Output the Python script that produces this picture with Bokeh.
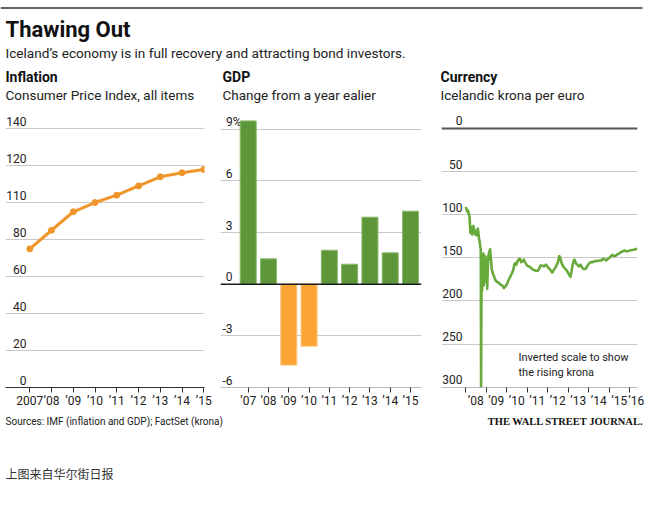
from bokeh.plotting import figure
from bokeh.models import Range1d, FixedTicker, Span, Grid, ColumnDataSource
from bokeh.layouts import column, row
from bokeh.embed import file_html
from bokeh.resources import INLINE
from bokeh.core.properties import value

# ---------------- data ----------------
TITLE = "Thawing Out"
SUBTITLE = "Iceland’s economy is in full recovery and attracting bond investors."
PANEL_TITLES = ["Inflation", "GDP", "Currency"]
PANEL_SUBTITLES = ["Consumer Price Index, all items", "Change from a year ealier", "Icelandic krona per euro"]
SOURCE = "Sources: IMF (inflation and GDP); FactSet (krona)"
CREDIT = "THE WALL STREET JOURNAL."
NOTE = "上图来自华尔街日报"

CPI_YEARS = [2007, 2008, 2009, 2010, 2011, 2012, 2013, 2014, 2015]
CPI_VALUES = [75.0, 85.1, 95.1, 100.1, 104.1, 109.1, 114.0, 116.2, 118.0]
CPI_XLABELS = ["2007", "’08", "’09", "’10", "’11", "’12", "’13", "’14", "’15"]
CPI_YTICKS = [0, 20, 40, 60, 80, 100, 120, 140]
CPI_YLABELS = ["0", "20", "40", "60", "80", "110", "120", "140"]

GDP_YEARS = [2007, 2008, 2009, 2010, 2011, 2012, 2013, 2014, 2015]
GDP_VALUES = [9.48, 1.47, -4.70, -3.60, 1.97, 1.16, 3.89, 1.82, 4.24]
GDP_XLABELS = ["’07", "’08", "’09", "’10", "’11", "’12", "’13", "’14", "’15"]
GDP_YTICKS = [-6, -3, 0, 3, 6, 9]
GDP_YLABELS = ["-6", "-3", "0", "3", "6", "9%"]

KRONA_DATES = [
    2008.00, 2008.04, 2008.08, 2008.12, 2008.16, 2008.20, 2008.22, 2008.24, 2008.27, 2008.30,
    2008.33, 2008.36, 2008.39, 2008.42, 2008.45, 2008.48, 2008.51, 2008.54, 2008.57, 2008.60,
    2008.63, 2008.66, 2008.69, 2008.72, 2008.745, 2008.76, 2008.775, 2008.79, 2008.81, 2008.83,
    2008.85, 2008.87, 2008.89, 2008.91, 2008.93, 2008.95, 2008.97, 2009.00, 2009.03, 2009.06,
    2009.09, 2009.12, 2009.16, 2009.20, 2009.24, 2009.28, 2009.33, 2009.40, 2009.46, 2009.55,
    2009.63, 2009.70, 2009.79, 2009.87, 2009.95, 2010.03, 2010.10, 2010.20, 2010.28, 2010.33,
    2010.38, 2010.43, 2010.48, 2010.52, 2010.58, 2010.65, 2010.72, 2010.78, 2010.84, 2010.90,
    2011.01, 2011.10, 2011.17, 2011.25, 2011.33, 2011.43, 2011.53, 2011.60, 2011.66, 2011.75,
    2011.84, 2011.92, 2012.00, 2012.06, 2012.14, 2012.23, 2012.31, 2012.39, 2012.47, 2012.52,
    2012.57, 2012.61, 2012.66, 2012.72, 2012.80, 2012.88, 2012.95, 2013.04, 2013.12, 2013.17,
    2013.22, 2013.28, 2013.32, 2013.38, 2013.45, 2013.53, 2013.61, 2013.68, 2013.76, 2013.85,
    2013.93, 2013.98, 2014.05, 2014.12, 2014.20, 2014.30, 2014.42, 2014.52, 2014.62, 2014.72,
    2014.80, 2014.87, 2014.95, 2015.02, 2015.10, 2015.16, 2015.25, 2015.32, 2015.40, 2015.48,
    2015.55, 2015.61, 2015.70, 2015.77, 2015.85, 2015.94, 2016.02, 2016.10, 2016.20, 2016.29,
    2016.38,
]
KRONA_VALUES = [
    91, 93, 96, 95, 99, 103, 112, 121, 114, 118,
    123, 115, 113, 121, 118, 123, 119, 124, 122, 116,
    121, 128, 131, 137, 140, 300, 205, 150, 188, 146,
    176, 145, 182, 150, 170, 148, 178, 155, 150, 186,
    160, 147, 143, 140, 152, 163, 168, 172, 176, 178,
    179, 181, 182, 185, 183, 180, 176, 171, 167, 164,
    158, 156, 158, 155, 152, 151, 155, 154, 152, 155,
    159, 160, 161, 163, 164, 165, 165, 162, 159, 159,
    160, 158, 160, 162, 164, 167, 164, 161, 157, 154,
    148, 149, 154, 158, 161, 163, 165, 169, 172, 166,
    159, 153, 152, 156, 158, 160, 158, 161, 163, 163,
    160, 158, 156, 155, 155, 154, 153.5, 153, 153, 151,
    152, 153, 151, 150, 148, 146.5, 148, 147.5, 146, 145,
    144, 143, 142, 141.5, 142.5, 142, 141.5, 141, 140.5, 140,
    139.5,
]
KRONA_YTICKS = [0, 50, 100, 150, 200, 250, 300]
KRONA_YLABELS = ["0", "50", "100", "150", "200", "250", "300"]
KRONA_YEAR_STARTS = [2008, 2009, 2010, 2011, 2012, 2013, 2014, 2015, 2016]
KRONA_LABEL_AT = [2008.5, 2009.5, 2010.5, 2011.5, 2012.5, 2013.5, 2014.5, 2015.5, 2016.33]
KRONA_XLABELS = ["’08", "’09", "’10", "’11", "’12", "’13", "’14", "’15", "’16"]
KRONA_NOTE = ["Inverted scale to show", "the rising krona"]

# ---------------- style ----------------
FONT = "Roboto"
TXT = "#222222"
GRID = "#c9c9c9"
ORANGE_LINE = "#f0952b"
ORANGE_BAR = "#fba634"
ORANGE_EDGE = "#fcc57c"
GREEN_BAR = "#5e963a"
GREEN_EDGE = "#8ab86c"
GREEN_LINE = "#69aa3d"

W = 657
FRAME_H = 277
TOP = 2
BOTTOM = 25


def bare(width, height):
    p = figure(width=width, height=height, x_range=Range1d(0, width), y_range=Range1d(height, 0),
               x_axis_location=None, y_axis_location=None, toolbar_location=None,
               output_backend="svg", min_border=0)
    p.grid.visible = False
    p.outline_line_color = None
    return p


def panel(frame_w, left, right, xr, yr):
    p = figure(frame_width=frame_w, frame_height=FRAME_H, min_border_left=left, min_border_right=right,
               min_border_top=TOP, min_border_bottom=BOTTOM, x_range=xr, y_range=yr,
               y_axis_location=None, toolbar_location=None, output_backend="svg")
    p.grid.visible = False
    p.outline_line_color = None
    ax = p.xaxis[0]
    ax.major_tick_in = 0
    ax.major_tick_out = 5
    ax.minor_tick_in = 0
    ax.minor_tick_out = 0
    ax.major_tick_line_color = "#333333"
    ax.major_label_standoff = 1
    ax.major_label_text_font = FONT
    ax.major_label_text_font_size = "12px"
    ax.major_label_text_color = TXT
    return p


def ylabels(p, ticks, labels, xoff, extra=None):
    offs = [xoff + (extra or {}).get(t, 0) for t in labels]
    src = ColumnDataSource(dict(x=[p.x_range.start] * len(ticks), y=ticks, t=labels, o=offs))
    p.text(x="x", y="y", text="t", x_offset="o", y_offset=-7.5, source=src, text_align="right",
           text_baseline="middle", text_font=value(FONT), text_font_size="12px", text_color=TXT)


# ---------------- header ----------------
hdr = bare(W, 108)
hdr.segment(x0=[0], y0=[7.6], x1=[642], y1=[7.6], line_color="#333333", line_width=1.5)
hdr.text(x=[5], y=[28.5], text=[TITLE], text_font=value(FONT), text_font_style="bold",
         text_font_size="22px", text_color="#111111", text_baseline="middle")
hdr.text(x=[5], y=[52], text=[SUBTITLE], text_font=value(FONT), text_font_size="13.6px",
         text_color=TXT, text_baseline="middle")
px = [5, 222, 440]
hdr.text(x=px, y=[76] * 3, text=PANEL_TITLES, text_font=value(FONT), text_font_style="bold",
         text_font_size="14px", text_color="#111111", text_baseline="middle")
hdr.text(x=px, y=[94.3] * 3, text=PANEL_SUBTITLES, text_font=value(FONT), text_font_size="13.5px",
         text_color=TXT, text_baseline="middle")

# ---------------- inflation ----------------
p1 = panel(199, 5, 11, Range1d(2005.883, 2015.032), Range1d(0, 149.9))
p1.add_layout(Grid(dimension=1, ticker=FixedTicker(ticks=CPI_YTICKS), grid_line_color=GRID))
p1.xaxis.ticker = FixedTicker(ticks=CPI_YEARS)
p1.xaxis.major_label_overrides = dict(zip(CPI_YEARS, CPI_XLABELS))
p1.xaxis.axis_line_color = "#333333"
ylabels(p1, CPI_YTICKS, CPI_YLABELS, 21)
p1.line(CPI_YEARS, CPI_VALUES, line_color=ORANGE_LINE, line_width=3)
p1.scatter(CPI_YEARS, CPI_VALUES, size=6, fill_color=ORANGE_LINE, line_color=ORANGE_LINE)

# ---------------- GDP ----------------
p2 = panel(201, 5, 12, Range1d(2005.635, 2015.542), Range1d(-6, 10.086))
p2.add_layout(Grid(dimension=1, ticker=FixedTicker(ticks=GDP_YTICKS), grid_line_color=GRID))
p2.xaxis.ticker = FixedTicker(ticks=GDP_YEARS)
p2.xaxis.major_label_overrides = dict(zip(GDP_YEARS, GDP_XLABELS))
p2.xaxis.axis_line_color = "#bbbbbb"
ylabels(p2, GDP_YTICKS, GDP_YLABELS, 12, extra={"9%": 9})
fills = [GREEN_BAR if v >= 0 else ORANGE_BAR for v in GDP_VALUES]
edges = [GREEN_EDGE if v >= 0 else ORANGE_EDGE for v in GDP_VALUES]
p2.vbar(x=GDP_YEARS, top=GDP_VALUES, bottom=0, width=0.79, fill_color=fills, line_color=edges, line_width=1)
p2.add_layout(Span(location=0, dimension="width", line_color="#1a1a1a", line_width=1.5))

# ---------------- currency ----------------
p3 = panel(196, 8, 20, Range1d(2006.829, 2016.39), Range1d(300.35, -20.87))
p3.add_layout(Grid(dimension=1, ticker=FixedTicker(ticks=KRONA_YTICKS[1:]), grid_line_color=GRID))
p3.add_layout(Span(location=0, dimension="width", line_color="#555555", line_width=2.2, level="underlay"))
p3.xaxis.ticker = FixedTicker(ticks=KRONA_LABEL_AT, minor_ticks=KRONA_YEAR_STARTS)
p3.xaxis.major_label_overrides = dict(zip(KRONA_LABEL_AT, KRONA_XLABELS))
p3.xaxis.major_tick_out = 0
p3.xaxis.minor_tick_out = 5
p3.xaxis.minor_tick_line_color = "#333333"
p3.xaxis.axis_line_color = "#bbbbbb"
ylabels(p3, KRONA_YTICKS, KRONA_YLABELS, 21)
p3.line(KRONA_DATES, KRONA_VALUES, line_color=GREEN_LINE, line_width=2.6, line_join="round")
p3.text(x=[2010.585, 2010.585], y=[266.1, 282.4], text=KRONA_NOTE, text_font=value(FONT),
        text_font_size="11px", text_color=TXT, text_baseline="middle")

# ---------------- footer ----------------
ftr = bare(W, 94)
ftr.text(x=[5], y=[9], text=[SOURCE], text_font=value(FONT), text_font_size="10px",
         text_color=TXT, text_baseline="middle")
ftr.text(x=[643], y=[9], text=[CREDIT], text_font=value("Liberation Serif"), text_font_style="bold",
         text_font_size="10.5px", text_color="#111111", text_align="right", text_baseline="middle")
ftr.text(x=[5], y=[61], text=[NOTE], text_font=value("Noto Sans CJK SC"), text_font_size="12px",
         text_color="#333333", text_baseline="middle")

layout = column(hdr, row(p1, p2, p3, spacing=0), ftr, spacing=0)
open("out.html", "w").write(file_html(layout, INLINE))
